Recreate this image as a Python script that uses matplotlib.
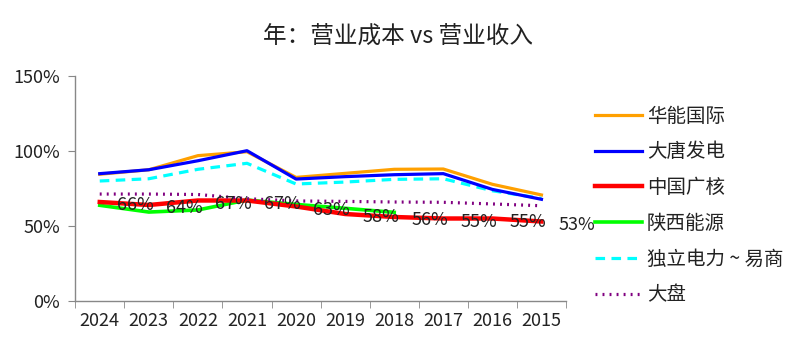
import matplotlib
matplotlib.use("Agg")
import matplotlib.pyplot as plt
import numpy as np
from matplotlib.ticker import FuncFormatter, FixedLocator

plt.rcParams['font.family'] = ['Noto Sans CJK SC', 'DejaVu Sans']

years = ["2024", "2023", "2022", "2021", "2020", "2019", "2018", "2017", "2016", "2015"]
huaneng = [0.845, 0.875, 0.969, 0.995, 0.824, 0.851, 0.878, 0.880, 0.778, 0.707]
datang = [0.849, 0.875, 0.935, 1.002, 0.813, 0.829, 0.842, 0.849, 0.744, 0.678]
cgn = [0.66, 0.64, 0.67, 0.67, 0.63, 0.58, 0.56, 0.55, 0.55, 0.53]
shaanxi = [0.638, 0.593, 0.607, 0.673, 0.644, 0.618, 0.591, np.nan, np.nan, np.nan]
indep = [0.800, 0.815, 0.878, 0.918, 0.780, 0.793, 0.811, 0.815, 0.735, 0.684]
market = [0.713, 0.713, 0.710, 0.682, 0.667, 0.664, 0.660, 0.658, 0.647, 0.635]

fig = plt.figure(figsize=(8.0, 3.53), dpi=100)
ax = fig.add_axes([0.094, 0.1473, 0.6135, 0.6374])
x = np.arange(len(years))

ax.plot(x, huaneng, color='#FFA000', lw=2.3, label='华能国际', zorder=3)
ax.plot(x, datang, color='#0000FF', lw=2.3, label='大唐发电', zorder=4)
ax.plot(x, cgn, color='#FF0000', lw=3.2, label='中国广核', zorder=3)
ax.plot(x, shaanxi, color='#00FF00', lw=2.6, label='陕西能源', zorder=2)
ax.plot(x, indep, color='#00FFFF', lw=2.3, ls=(0, (3, 2)), label='独立电力 ~ 易商', zorder=3)
ax.plot(x, market, color='#800080', lw=2.3, ls=(0, (0.6, 1.6)), dash_capstyle='butt', label='大盘', zorder=3)

for xi, v in zip(x, cgn):
    ax.annotate(f"{v*100:.0f}%", (xi, v), xytext=(17, -3), textcoords='offset pixels',
                ha='left', va='center', fontsize=13, color='#222222', zorder=5)

ax.set_xlim(-0.5, len(years) - 0.5)
ax.set_ylim(0, 1.5)
ax.set_yticks([0, 0.5, 1.0, 1.5])
ax.yaxis.set_major_formatter(FuncFormatter(lambda v, p: f"{v*100:.0f}%"))
ax.set_xticks(x)
ax.set_xticklabels(years)
ax.xaxis.set_minor_locator(FixedLocator(np.arange(-0.5, len(years), 1.0)))
ax.tick_params(axis='x', which='major', length=0, labelsize=13, pad=8, colors='#222222')
ax.tick_params(axis='x', which='minor', length=5, color='#888888')
ax.tick_params(axis='y', length=5, color='#888888', labelsize=13, labelcolor='#222222', pad=6)

for s in ['top', 'right']:
    ax.spines[s].set_visible(False)
for s in ['left', 'bottom']:
    ax.spines[s].set_color('#888888')
    ax.spines[s].set_linewidth(1.0)

fig.text(0.4975, 0.895, "年：营业成本 vs 营业收入", ha='center', va='center', fontsize=17, color='#222222')

leg = ax.legend(loc='upper left', bbox_to_anchor=(1.044, 0.903), frameon=False, fontsize=14,
                handlelength=2.4, labelspacing=0.76, handletextpad=0.25, borderaxespad=0)
for t in leg.get_texts():
    t.set_color('#222222')

fig.savefig("out.png", dpi=100)
